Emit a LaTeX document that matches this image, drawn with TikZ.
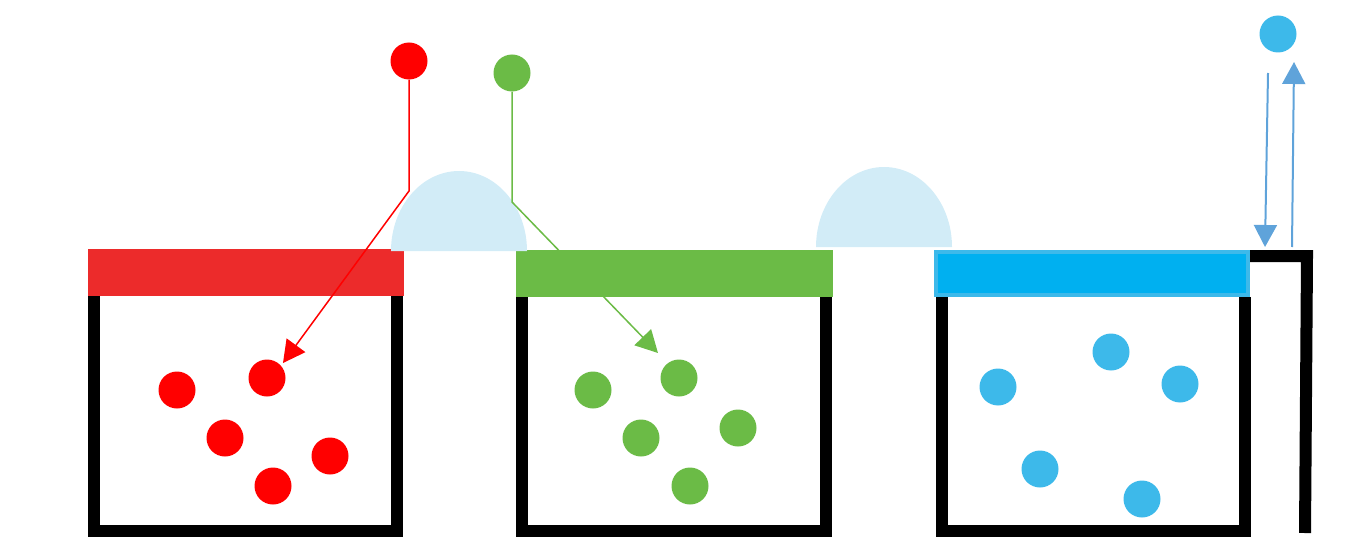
\documentclass[tikz,border=0pt]{standalone}
\usepackage{tikz}
\usetikzlibrary{shapes}
\usetikzlibrary{positioning}
\usetikzlibrary{arrows.meta}

\definecolor{ballred}{HTML}{FF0000}
\definecolor{barred}{HTML}{EC2B2B}
\definecolor{ballgreen}{HTML}{6BBB46}
\definecolor{ballblue}{HTML}{3DB9EA}
\definecolor{barblue}{HTML}{00B0F0}
\definecolor{domeblue}{HTML}{D2ECF7}
\definecolor{arrowblue}{HTML}{5FA3DA}

\begin{document}
\begin{tikzpicture}[x=1pt,y=1pt]
\tikzstyle{ball}=[circle,inner sep=0pt,minimum size=37pt]
\tikzstyle{redball}=[ball,fill=ballred]
\tikzstyle{greenball}=[ball,fill=ballgreen]
\tikzstyle{blueball}=[ball,fill=ballblue]
\tikzstyle{wall}=[line width=12pt,draw=black]
\tikzstyle{dome}=[fill=domeblue]
\tikzstyle{shot}=[line width=1.5pt,-{Triangle[length=22pt,width=23pt]}]
\useasboundingbox (0,0) rectangle (1362,558);
% lids
\fill[barred] (88,262) rectangle (404,309);
\fill[ballgreen] (516,261) rectangle (833,308);
\filldraw[fill=barblue,draw=ballblue,line width=4pt] (936,263) rectangle (1248,306);
% containers
\draw[wall] (94,262) -- (94,27) -- (397,27) -- (397,262);
\draw[wall] (522,261) -- (522,27) -- (826,27) -- (826,261);
\draw[wall] (942,261) -- (942,27) -- (1245,27) -- (1245,261);
\draw[wall] (1250,302) -- (1307,302) -- (1305,25);
% domes
\fill[dome] (391,307) arc[start angle=180,end angle=0,x radius=68,y radius=80] -- cycle;
\fill[dome] (816,311) arc[start angle=180,end angle=0,x radius=68,y radius=80] -- cycle;
% balls
\node[redball] (rtop) at (409,497) {};
\node[greenball] (gtop) at (512,485) {};
\node[blueball] (btop) at (1278,524) {};
\node[redball] (r1) at (177,168) {};
\node[redball] (r2) at (267,180) {};
\node[redball] (r3) at (225,120) {};
\node[redball] (r4) at (330,102) {};
\node[redball] (r5) at (273,72) {};
\node[greenball] (g1) at (593,168) {};
\node[greenball] (g2) at (679,180) {};
\node[greenball] (g3) at (641,120) {};
\node[greenball] (g4) at (738,130) {};
\node[greenball] (g5) at (690,72) {};
\node[blueball] (b1) at (998,171) {};
\node[blueball] (b2) at (1111,206) {};
\node[blueball] (b3) at (1180,174) {};
\node[blueball] (b4) at (1040,89) {};
\node[blueball] (b5) at (1142,59) {};
% paths
\coordinate (rbend) at (409,367);
\coordinate (rhit) at (283,195);
\coordinate (gbend) at (512,356);
\coordinate (ghit) at (658,205);
\coordinate (downfrom) at (1268,485);
\coordinate (downto) at (1265,311);
\coordinate (upfrom) at (1292,311);
\coordinate (upto) at (1294,496);
\draw[shot,draw=ballred] (rtop) -- (rbend) -- (rhit);
\draw[shot,draw=ballgreen] (gtop) -- (gbend) -- (ghit);
\draw[shot,draw=arrowblue,line width=2pt] (downfrom) -- (downto);
\draw[shot,draw=arrowblue,line width=2pt] (upfrom) -- (upto);
\end{tikzpicture}
\end{document}
